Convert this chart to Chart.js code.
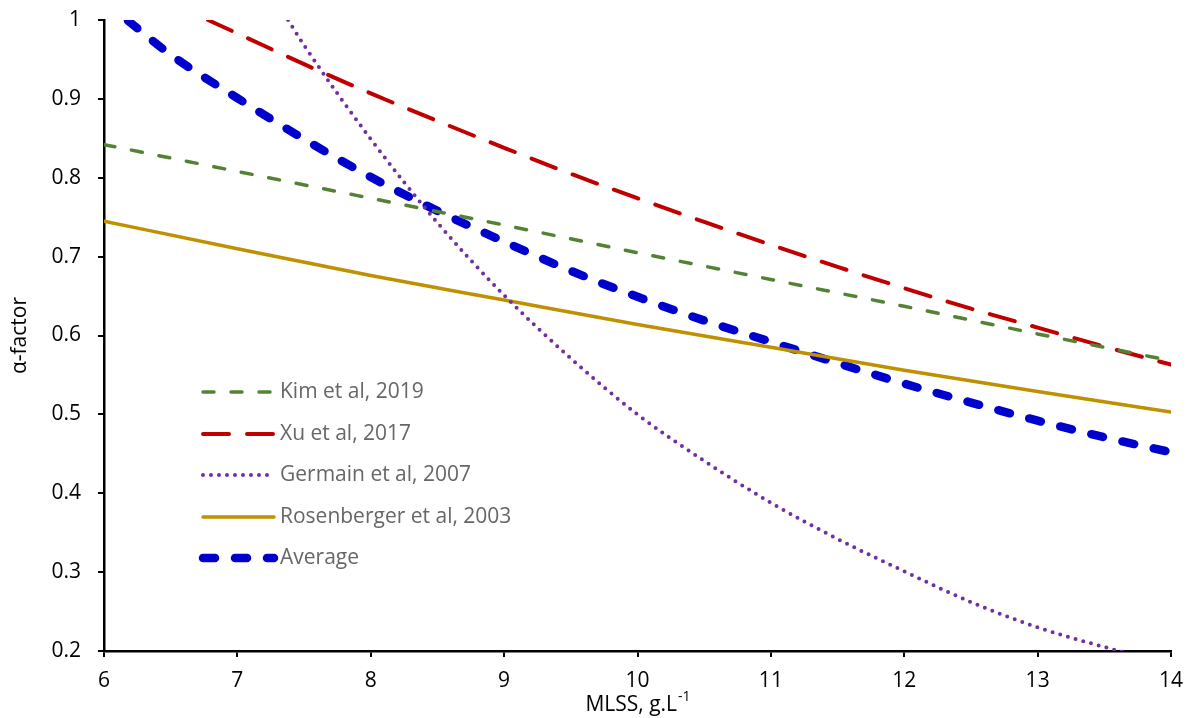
<!DOCTYPE html>
<html>
<head>
<meta charset="utf-8">
<script src="https://cdn.jsdelivr.net/npm/chart.js@4.4.1/dist/chart.umd.min.js"></script>
<style>
  html, body { margin: 0; padding: 0; background: #fff; }
</style>
</head>
<body>
<canvas id="alpha" width="1188" height="718"></canvas>
<script>
// values
var kimX = [6, 7, 8, 9, 10, 11, 12, 13, 14];
var kimY = [0.842, 0.808, 0.774, 0.740, 0.705, 0.671, 0.637, 0.602, 0.568];

var xuX = [6.78, 7, 7.5, 8, 8.5, 9, 9.5, 10, 10.5, 11, 11.5, 12, 12.5, 13, 13.5, 14];
var xuY = [1.0, 0.983, 0.944, 0.907, 0.872, 0.838, 0.805, 0.774, 0.744, 0.715, 0.687, 0.660, 0.634, 0.610, 0.586, 0.563];

var germainX = [7.38, 7.5, 8, 8.5, 9, 9.5, 10, 10.5, 11, 11.5, 12, 12.5, 13, 13.5, 14];
var germainY = [1.0, 0.968, 0.849, 0.743, 0.651, 0.571, 0.5, 0.441, 0.388, 0.342, 0.301, 0.262, 0.230, 0.205, 0.183];

var rosenX = [6, 7, 8, 9, 10, 11, 12, 13, 14];
var rosenY = [0.745, 0.710, 0.676, 0.645, 0.614, 0.585, 0.556, 0.529, 0.503];

var avgX = [6.18, 6.5, 7, 7.5, 8, 8.5, 9, 9.5, 10, 10.5, 11, 11.5, 12, 12.5, 13, 13.5, 14];
var avgY = [0.999, 0.956, 0.901, 0.849, 0.801, 0.758, 0.719, 0.682, 0.649, 0.619, 0.592, 0.565, 0.539, 0.515, 0.492, 0.471, 0.452];

var xTicks = [6, 7, 8, 9, 10, 11, 12, 13, 14];
var yTicks = [0.2, 0.3, 0.4, 0.5, 0.6, 0.7, 0.8, 0.9, 1];

var FONT = "'Open Sans', 'Noto Sans', sans-serif";
var FSIZE = 21;

function pts(xs, ys) {
  return xs.map(function (x, i) { return { x: x, y: ys[i] }; });
}

function series(label, xs, ys, color, width, dash) {
  return {
    label: label,
    data: pts(xs, ys),
    borderColor: color,
    backgroundColor: color,
    borderWidth: width,
    borderDash: dash,
    borderCapStyle: 'round',
    pointRadius: 0,
    fill: false,
    cubicInterpolationMode: 'monotone'
  };
}

// legend drawn inside the plot, like the original
var insideLegend = {
  id: 'insideLegend',
  afterDraw: function (chart) {
    var ctx = chart.ctx;
    var x0 = 203, x1 = 274, tx = 280;
    var rows = [392, 434, 475, 517, 558];
    ctx.save();
    chart.data.datasets.forEach(function (ds, i) {
      var y = rows[i];
      ctx.beginPath();
      ctx.strokeStyle = ds.borderColor;
      ctx.lineWidth = ds.borderWidth;
      ctx.lineCap = 'round';
      ctx.setLineDash(ds.borderDash || []);
      ctx.moveTo(x0, y);
      ctx.lineTo(x1, y);
      ctx.stroke();
      ctx.setLineDash([]);
      ctx.fillStyle = '#666666';
      ctx.font = FSIZE + "px " + FONT;
      ctx.textBaseline = 'middle';
      ctx.textAlign = 'left';
      ctx.fillText(ds.label, tx, y);
    });

    // x axis title with superscript
    var area = chart.chartArea;
    var cx = (area.left + area.right) / 2;
    ctx.fillStyle = '#000';
    ctx.textBaseline = 'alphabetic';
    var main = 'MLSS, g.L';
    var sup = '-1';
    ctx.font = "14px " + FONT;
    var supW = ctx.measureText(sup).width;
    ctx.font = FSIZE + "px " + FONT;
    var mainW = ctx.measureText(main).width;
    var start = cx - (mainW + supW) / 2;
    ctx.fillText(main, start, 711);
    ctx.font = "14px " + FONT;
    ctx.fillText(sup, start + mainW + 1, 701);
    ctx.restore();
  }
};

var canvas = document.getElementById('alpha');
var alphaChart = new Chart(canvas, {
  type: 'line',
  data: {
    datasets: [
      series('Kim et al, 2019', kimX, kimY, '#548235', 3.5, [11, 17]),
      series('Xu et al, 2017', xuX, xuY, '#C00000', 4, [26, 18]),
      series('Germain et al, 2007', germainX, germainY, '#7030A0', 4, [0, 8]),
      series('Rosenberger et al, 2003', rosenX, rosenY, '#BF9000', 3.5, []),
      series('Average', avgX, avgY, '#0000CC', 8.5, [12, 20])
    ]
  },
  options: {
    responsive: false,
    animation: false,
    layout: { padding: { top: 20, right: 17, left: 0, bottom: 0 } },
    plugins: {
      legend: { display: false },
      tooltip: { enabled: false }
    },
    scales: {
      x: {
        type: 'linear',
        min: 6,
        max: 14,
        afterBuildTicks: function (scale) {
          scale.ticks = xTicks.map(function (v) { return { value: v }; });
        },
        afterFit: function (scale) {
          scale.height = 67;
          scale.paddingLeft = 0;
          scale.paddingRight = 0;
        },
        ticks: {
          color: '#000',
          padding: 11,
          font: { family: FONT, size: FSIZE }
        },
        grid: {
          display: true,
          drawOnChartArea: false,
          drawTicks: true,
          tickLength: 6,
          color: '#000',
          lineWidth: 2
        },
        border: { display: true, color: '#000', width: 2.5 },
        title: { display: false }
      },
      y: {
        min: 0.2,
        max: 1,
        afterBuildTicks: function (scale) {
          scale.ticks = yTicks.map(function (v) { return { value: v }; });
        },
        afterFit: function (scale) {
          scale.width = 104;
          scale.paddingTop = 0;
          scale.paddingBottom = 0;
        },
        ticks: {
          color: '#000',
          padding: 17,
          font: { family: FONT, size: FSIZE },
          callback: function (v) { return String(Math.round(v * 10) / 10); }
        },
        grid: {
          display: true,
          drawOnChartArea: false,
          drawTicks: true,
          tickLength: 6,
          color: '#000',
          lineWidth: 2
        },
        border: { display: true, color: '#000', width: 2.5 },
        title: {
          display: true,
          text: 'α-factor',
          color: '#000',
          padding: { top: 7, bottom: 0 },
          font: { family: FONT, size: FSIZE }
        }
      }
    }
  },
  plugins: [insideLegend]
});
</script>
</body>
</html>
